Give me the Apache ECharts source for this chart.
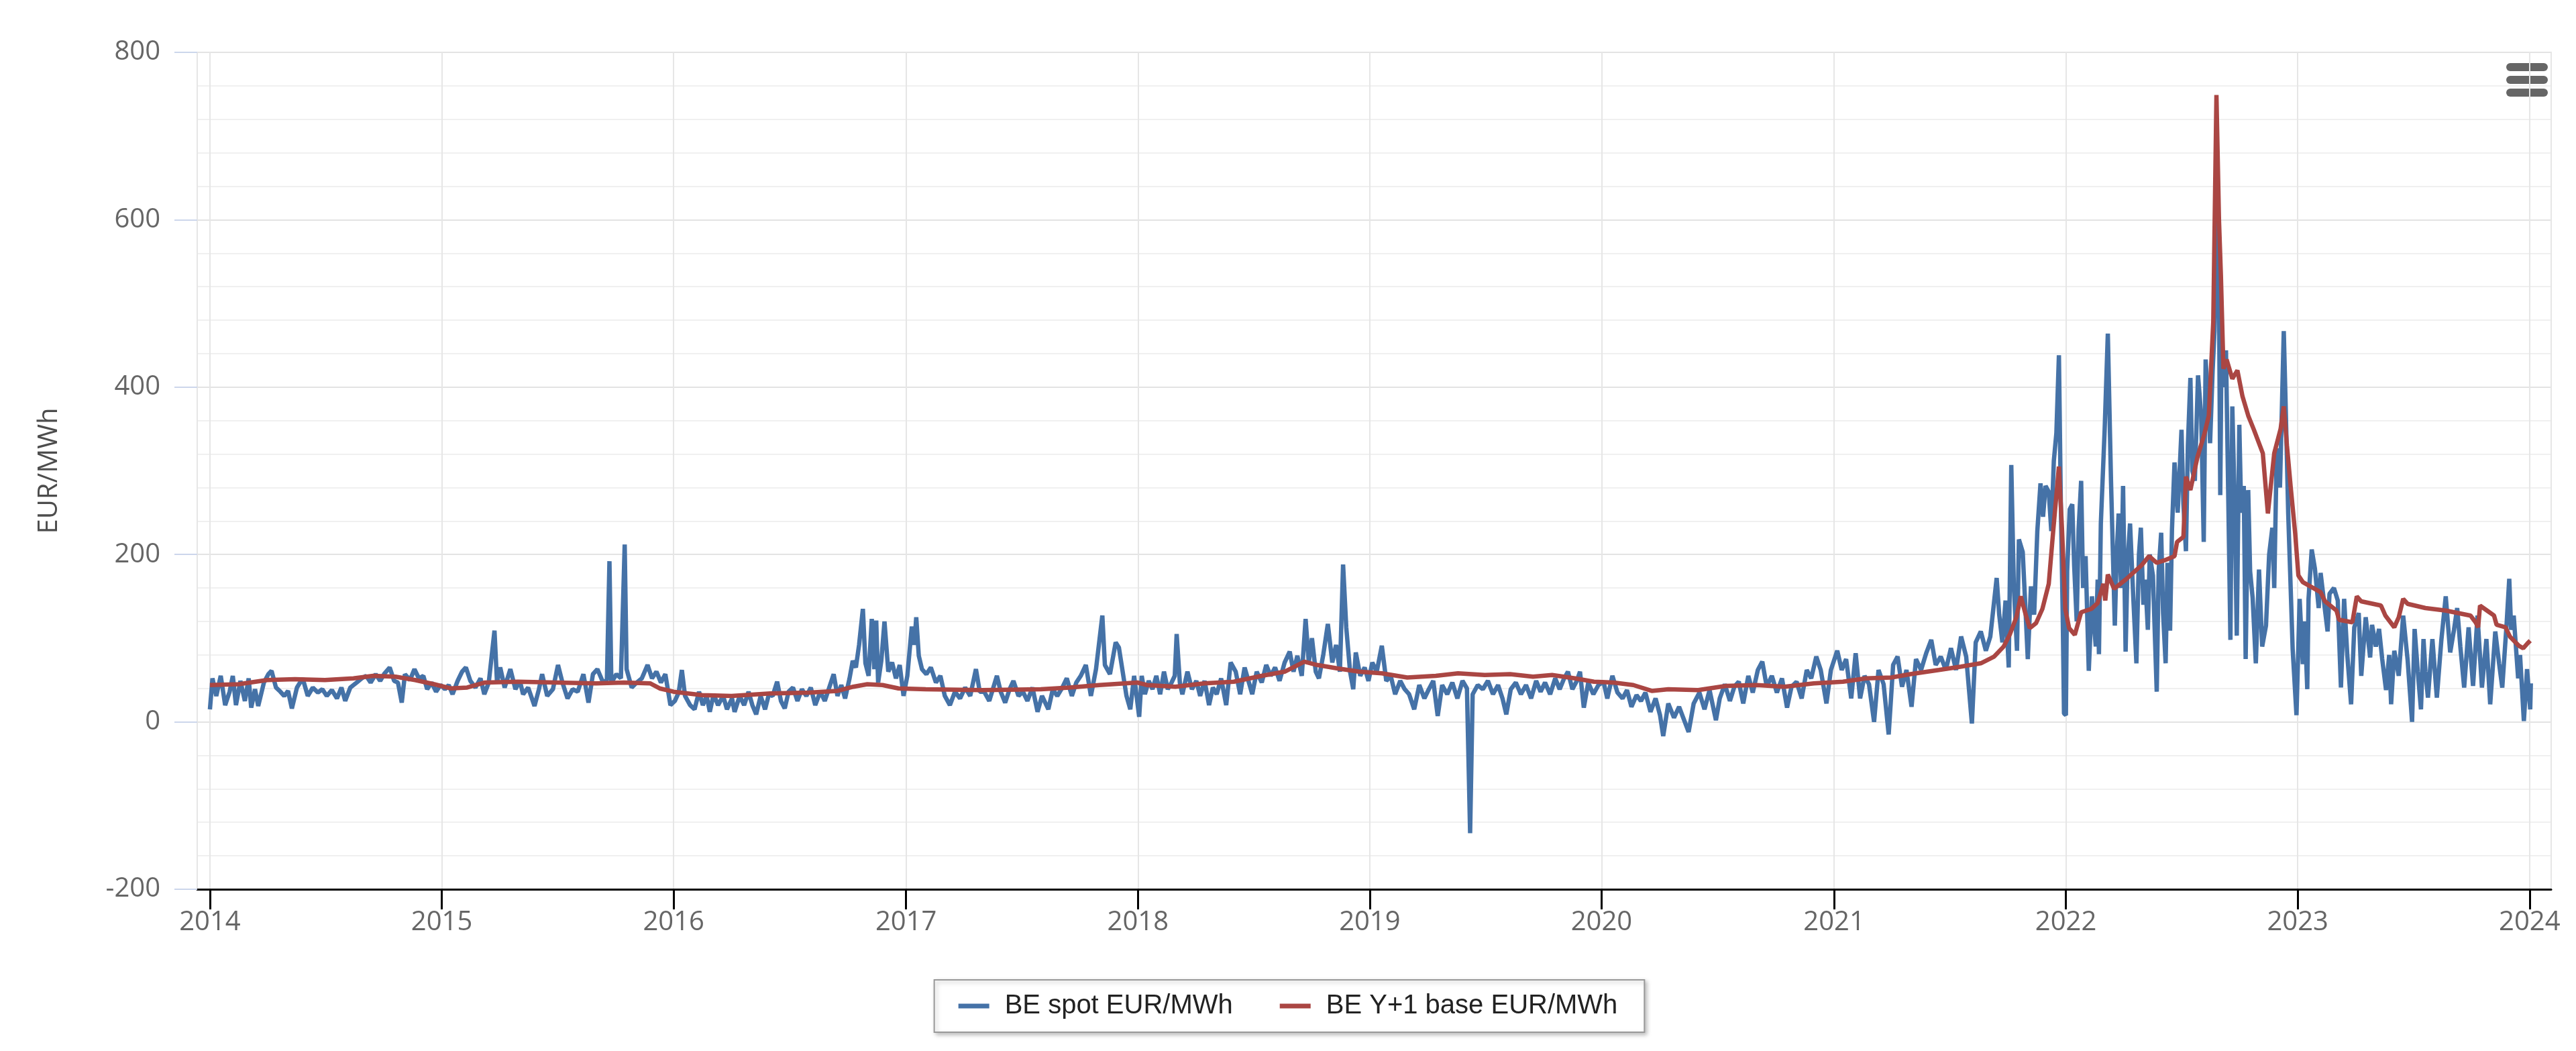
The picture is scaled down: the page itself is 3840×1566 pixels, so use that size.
<!DOCTYPE html>
<html>
<head>
<meta charset="utf-8">
<script src="https://cdn.jsdelivr.net/npm/echarts@6/dist/echarts.min.js"></script>
<style>
html,body{margin:0;padding:0;background:#fff;}
#chart{width:3840px;height:1566px;}
</style>
</head>
<body>
<div id="chart"></div>
<script>
// ---------- DATA ----------
const seriesNames = ['BE spot EUR/MWh', 'BE Y+1 base EUR/MWh'];
const yTicks = [-200, 0, 200, 400, 600, 800];

const spot2014 = [['2014-01-01',15],['2014-01-05',52],['2014-01-11',31],['2014-01-18',55],['2014-01-25',20],['2014-02-01',36],['2014-02-06',55],['2014-02-11',20],['2014-02-18',49],['2014-02-25',25],['2014-03-03',52],['2014-03-07',17],['2014-03-13',39],['2014-03-18',19],['2014-03-27',47],['2014-04-03',57],['2014-04-08',61],['2014-04-15',41],['2014-04-22',36],['2014-04-28',31],['2014-05-04',37],['2014-05-10',16],['2014-05-18',41],['2014-05-27',52],['2014-06-04',31],['2014-06-12',41],['2014-06-20',35],['2014-06-27',39],['2014-07-04',31],['2014-07-12',38],['2014-07-20',28],['2014-07-27',41],['2014-08-02',25],['2014-08-10',41],['2014-08-20',47],['2014-08-28',52],['2014-09-04',55],['2014-09-11',47],['2014-09-19',57],['2014-09-26',49],['2014-10-03',58],['2014-10-11',65],['2014-10-18',49],['2014-10-24',47],['2014-10-30',23],['2014-11-04',57],['2014-11-12',50],['2014-11-19',63],['2014-11-26',52],['2014-12-03',55],['2014-12-09',39],['2014-12-16',47],['2014-12-23',36],['2014-12-30',44]];
const spot2015 = [['2015-01-06',39],['2015-01-12',44],['2015-01-18',33],['2015-01-26',49],['2015-02-02',60],['2015-02-08',65],['2015-02-15',49],['2015-02-23',41],['2015-03-03',52],['2015-03-09',33],['2015-03-16',47],['2015-03-25',109],['2015-03-29',47],['2015-04-03',65],['2015-04-10',41],['2015-04-19',63],['2015-04-27',39],['2015-05-04',49],['2015-05-09',33],['2015-05-17',41],['2015-05-27',19],['2015-06-03',39],['2015-06-08',57],['2015-06-16',31],['2015-06-25',39],['2015-07-03',68],['2015-07-10',47],['2015-07-18',28],['2015-07-26',39],['2015-08-03',36],['2015-08-12',57],['2015-08-20',23],['2015-08-27',57],['2015-09-03',63],['2015-09-12',47],['2015-09-18',50],['2015-09-22',192],['2015-09-25',47],['2015-10-03',57],['2015-10-10',52],['2015-10-16',212],['2015-10-19',63],['2015-10-27',41],['2015-11-04',47],['2015-11-12',52],['2015-11-21',68],['2015-11-28',52],['2015-12-05',60],['2015-12-12',47],['2015-12-19',57],['2015-12-27',20]];
const spot2016 = [['2016-01-03',25],['2016-01-09',35],['2016-01-14',62],['2016-01-19',31],['2016-01-27',20],['2016-02-03',15],['2016-02-10',36],['2016-02-16',20],['2016-02-22',31],['2016-02-27',12],['2016-03-04',33],['2016-03-11',20],['2016-03-19',31],['2016-03-25',15],['2016-04-02',28],['2016-04-06',12],['2016-04-14',31],['2016-04-21',20],['2016-04-28',36],['2016-05-04',20],['2016-05-10',9],['2016-05-17',31],['2016-05-24',15],['2016-05-30',33],['2016-06-05',31],['2016-06-12',48],['2016-06-18',25],['2016-06-24',16],['2016-06-30',36],['2016-07-07',41],['2016-07-14',25],['2016-07-21',39],['2016-07-28',31],['2016-08-04',41],['2016-08-11',20],['2016-08-19',36],['2016-08-26',25],['2016-09-02',41],['2016-09-09',57],['2016-09-15',31],['2016-09-21',44],['2016-09-27',28],['2016-10-04',52],['2016-10-09',73],['2016-10-14',65],['2016-10-19',92],['2016-10-25',135],['2016-10-29',70],['2016-11-03',55],['2016-11-08',123],['2016-11-12',63],['2016-11-15',121],['2016-11-18',47],['2016-11-23',73],['2016-11-28',120],['2016-12-04',60],['2016-12-10',71],['2016-12-16',52],['2016-12-22',68],['2016-12-28',31]];
const spot2017 = [['2017-01-03',55],['2017-01-10',114],['2017-01-14',92],['2017-01-17',125],['2017-01-21',79],['2017-01-26',63],['2017-02-02',57],['2017-02-09',65],['2017-02-17',47],['2017-02-24',55],['2017-03-03',31],['2017-03-11',20],['2017-03-19',36],['2017-03-27',28],['2017-04-04',41],['2017-04-12',31],['2017-04-21',63],['2017-04-27',36],['2017-05-04',36],['2017-05-12',25],['2017-05-24',55],['2017-05-30',36],['2017-06-06',23],['2017-06-13',39],['2017-06-19',49],['2017-06-27',31],['2017-07-04',36],['2017-07-11',25],['2017-07-19',41],['2017-07-27',12],['2017-08-03',31],['2017-08-13',15],['2017-08-20',39],['2017-08-27',31],['2017-09-04',41],['2017-09-11',52],['2017-09-19',31],['2017-09-26',47],['2017-10-03',55],['2017-10-11',68],['2017-10-19',31],['2017-10-27',63],['2017-11-06',127],['2017-11-10',68],['2017-11-18',57],['2017-11-27',95],['2017-12-02',89],['2017-12-08',60],['2017-12-14',31],['2017-12-20',15],['2017-12-26',55]];
const spot2018 = [['2018-01-03',6],['2018-01-07',55],['2018-01-12',33],['2018-01-18',49],['2018-01-24',39],['2018-01-30',55],['2018-02-05',33],['2018-02-11',60],['2018-02-17',39],['2018-02-23',47],['2018-02-28',55],['2018-03-03',105],['2018-03-08',47],['2018-03-12',33],['2018-03-20',60],['2018-03-27',39],['2018-04-03',49],['2018-04-09',31],['2018-04-16',49],['2018-04-23',20],['2018-04-29',41],['2018-05-05',33],['2018-05-12',52],['2018-05-20',20],['2018-05-27',71],['2018-06-04',60],['2018-06-11',33],['2018-06-18',65],['2018-06-24',49],['2018-06-30',33],['2018-07-07',60],['2018-07-15',47],['2018-07-22',68],['2018-07-29',55],['2018-08-05',65],['2018-08-12',49],['2018-08-20',71],['2018-08-28',84],['2018-09-03',60],['2018-09-09',79],['2018-09-16',55],['2018-09-22',123],['2018-09-27',71],['2018-10-02',100],['2018-10-08',60],['2018-10-13',52],['2018-10-20',81],['2018-10-27',117],['2018-11-03',71],['2018-11-09',92],['2018-11-15',60],['2018-11-20',188],['2018-11-25',113],['2018-12-01',60],['2018-12-06',39],['2018-12-10',83],['2018-12-17',55],['2018-12-24',65],['2018-12-30',49]];
const spot2019 = [['2019-01-05',71],['2019-01-12',60],['2019-01-20',91],['2019-01-27',49],['2019-02-03',55],['2019-02-10',33],['2019-02-18',49],['2019-02-25',39],['2019-03-04',33],['2019-03-12',15],['2019-03-20',44],['2019-03-28',28],['2019-04-04',39],['2019-04-11',49],['2019-04-18',7],['2019-04-25',44],['2019-05-03',33],['2019-05-11',47],['2019-05-19',28],['2019-05-27',49],['2019-06-03',40],['2019-06-08',-133],['2019-06-12',33],['2019-06-20',44],['2019-06-28',39],['2019-07-06',49],['2019-07-14',33],['2019-07-22',44],['2019-07-29',28],['2019-08-04',9],['2019-08-11',39],['2019-08-19',47],['2019-08-27',33],['2019-09-04',44],['2019-09-12',28],['2019-09-20',49],['2019-09-27',36],['2019-10-04',47],['2019-10-12',33],['2019-10-20',52],['2019-10-27',39],['2019-11-03',52],['2019-11-09',60],['2019-11-16',39],['2019-11-23',49],['2019-11-28',60],['2019-12-04',17],['2019-12-11',47],['2019-12-19',33],['2019-12-27',44]];
const spot2020 = [['2020-01-04',48],['2020-01-10',28],['2020-01-18',55],['2020-01-26',35],['2020-02-03',28],['2020-02-10',38],['2020-02-17',18],['2020-02-25',32],['2020-03-03',25],['2020-03-10',35],['2020-03-18',12],['2020-03-26',28],['2020-04-02',8],['2020-04-07',-17],['2020-04-15',22],['2020-04-24',5],['2020-05-02',18],['2020-05-10',2],['2020-05-17',-12],['2020-05-25',22],['2020-06-03',35],['2020-06-11',15],['2020-06-19',38],['2020-06-29',2],['2020-07-05',28],['2020-07-13',45],['2020-07-21',25],['2020-07-28',42],['2020-08-04',48],['2020-08-11',22],['2020-08-19',55],['2020-08-26',35],['2020-09-03',62],['2020-09-10',72],['2020-09-17',42],['2020-09-25',55],['2020-10-03',35],['2020-10-11',52],['2020-10-19',17],['2020-10-26',42],['2020-11-03',48],['2020-11-11',28],['2020-11-19',62],['2020-11-26',52],['2020-12-04',78],['2020-12-11',62],['2020-12-20',22],['2020-12-27',62]];
const spot2021 = [['2021-01-06',85],['2021-01-13',62],['2021-01-20',75],['2021-01-28',28],['2021-02-04',82],['2021-02-11',28],['2021-02-18',55],['2021-02-25',45],['2021-03-05',0],['2021-03-12',62],['2021-03-20',45],['2021-03-28',-15],['2021-04-04',68],['2021-04-11',78],['2021-04-18',42],['2021-04-25',62],['2021-05-03',18],['2021-05-10',75],['2021-05-18',62],['2021-05-26',82],['2021-06-03',98],['2021-06-10',68],['2021-06-18',78],['2021-06-26',62],['2021-07-04',88],['2021-07-12',62],['2021-07-20',102],['2021-07-28',78],['2021-08-06',-2],['2021-08-12',95],['2021-08-20',108],['2021-08-28',85],['2021-09-04',102],['2021-09-14',172],['2021-09-18',128],['2021-09-23',95],['2021-09-28',145],['2021-10-03',65],['2021-10-07',307],['2021-10-11',162],['2021-10-16',85],['2021-10-19',218],['2021-10-25',203],['2021-10-29',140],['2021-11-02',75],['2021-11-07',162],['2021-11-12',128],['2021-11-17',228],['2021-11-22',285],['2021-11-26',245],['2021-11-30',282],['2021-12-05',275],['2021-12-09',228],['2021-12-13',312],['2021-12-17',345],['2021-12-21',438],['2021-12-24',262],['2021-12-27',128],['2021-12-29',10]];
const spot2022 = [['2022-01-01',8],['2022-01-03',180],['2022-01-07',254],['2022-01-11',260],['2022-01-14',187],['2022-01-18',120],['2022-01-21',230],['2022-01-25',288],['2022-01-28',160],['2022-02-01',198],['2022-02-06',61],['2022-02-11',150],['2022-02-17',90],['2022-02-20',170],['2022-02-22',81],['2022-02-25',237],['2022-03-03',349],['2022-03-08',464],['2022-03-13',288],['2022-03-19',115],['2022-03-22',200],['2022-03-25',249],['2022-03-29',160],['2022-04-01',282],['2022-04-05',84],['2022-04-08',190],['2022-04-12',237],['2022-04-17',150],['2022-04-22',70],['2022-04-26',200],['2022-04-29',232],['2022-05-03',140],['2022-05-06',170],['2022-05-10',110],['2022-05-13',200],['2022-05-18',175],['2022-05-24',36],['2022-05-27',180],['2022-05-31',226],['2022-06-03',130],['2022-06-07',70],['2022-06-10',190],['2022-06-14',109],['2022-06-17',230],['2022-06-21',310],['2022-06-26',250],['2022-07-02',349],['2022-07-05',260],['2022-07-09',204],['2022-07-12',330],['2022-07-16',411],['2022-07-19',300],['2022-07-23',288],['2022-07-28',414],['2022-08-02',366],['2022-08-06',215],['2022-08-09',433],['2022-08-13',380],['2022-08-16',333],['2022-08-20',420],['2022-08-23',467],['2022-08-27',620],['2022-08-30',520],['2022-09-01',271],['2022-09-03',450],['2022-09-06',400],['2022-09-10',444],['2022-09-13',300],['2022-09-17',98],['2022-09-20',377],['2022-09-24',250],['2022-09-27',103],['2022-10-01',355],['2022-10-04',250],['2022-10-08',282],['2022-10-11',75],['2022-10-15',277],['2022-10-18',180],['2022-10-22',148],['2022-10-27',70],['2022-11-01',182],['2022-11-06',90],['2022-11-12',115],['2022-11-17',200],['2022-11-22',232],['2022-11-25',160],['2022-11-29',327],['2022-12-04',280],['2022-12-10',467],['2022-12-13',377],['2022-12-17',249],['2022-12-20',180],['2022-12-24',87],['2022-12-30',8]];
const spot2023 = [['2023-01-04',147],['2023-01-09',69],['2023-01-12',120],['2023-01-16',39],['2023-01-18',147],['2023-01-23',206],['2023-01-28',183],['2023-02-03',136],['2023-02-06',178],['2023-02-13',133],['2023-02-17',108],['2023-02-20',153],['2023-02-27',160],['2023-03-05',145],['2023-03-10',41],['2023-03-15',147],['2023-03-20',80],['2023-03-26',21],['2023-03-31',113],['2023-04-07',130],['2023-04-11',55],['2023-04-18',125],['2023-04-25',77],['2023-04-28',116],['2023-05-04',90],['2023-05-09',111],['2023-05-14',75],['2023-05-20',38],['2023-05-25',80],['2023-05-28',21],['2023-06-02',85],['2023-06-09',55],['2023-06-16',127],['2023-06-23',74],['2023-06-30',0],['2023-07-04',111],['2023-07-09',60],['2023-07-14',15],['2023-07-18',99],['2023-07-21',60],['2023-07-25',29],['2023-08-01',99],['2023-08-08',29],['2023-08-15',97],['2023-08-22',150],['2023-08-29',83],['2023-09-04',110],['2023-09-09',136],['2023-09-14',90],['2023-09-20',41],['2023-09-27',113],['2023-10-04',43],['2023-10-11',127],['2023-10-18',41],['2023-10-25',99],['2023-10-31',21],['2023-11-08',108],['2023-11-14',70],['2023-11-19',41],['2023-11-26',119],['2023-11-30',171],['2023-12-03',110],['2023-12-07',127],['2023-12-14',52],['2023-12-17',80],['2023-12-23',1],['2023-12-28',63],['2024-01-02',15],['2024-01-03',46]];

const y1_2014_2017 = [['2014-01-01',44],['2014-02-15',45],['2014-04-01',50],['2014-05-15',51],['2014-07-01',50],['2014-08-15',52],['2014-09-15',55],['2014-10-20',54],['2014-11-20',50],['2014-12-20',45],['2015-01-15',40],['2015-02-10',41],['2015-03-10',47],['2015-05-01',48],['2015-07-01',47],['2015-09-01',46],['2015-10-15',47],['2015-11-25',46],['2015-12-10',40],['2016-01-01',36],['2016-02-15',32],['2016-04-01',31],['2016-06-01',34],['2016-08-01',35],['2016-09-15',37],['2016-10-10',42],['2016-11-01',45],['2016-11-25',44],['2016-12-20',40],['2017-02-01',39],['2017-05-01',38],['2017-08-01',39],['2017-09-15',41],['2017-11-01',44],['2017-12-31',47]];
const y1_2018_2020 = [['2018-01-15',44],['2018-03-01',42],['2018-04-15',46],['2018-06-01',48],['2018-07-15',55],['2018-08-20',60],['2018-09-20',72],['2018-10-10',68],['2018-11-10',64],['2018-12-15',60],['2019-01-20',58],['2019-03-01',53],['2019-04-15',55],['2019-05-20',58],['2019-07-01',56],['2019-08-10',57],['2019-09-15',54],['2019-10-15',56],['2019-11-20',52],['2019-12-20',48],['2020-01-20',47],['2020-02-20',44],['2020-03-20',37],['2020-04-15',39],['2020-06-01',38],['2020-07-15',43],['2020-09-01',44],['2020-10-15',42],['2020-11-30',46]];
const y1_2021 = [['2021-01-15',48],['2021-02-20',52],['2021-04-01',53],['2021-05-01',57],['2021-06-15',62],['2021-07-20',66],['2021-08-20',70],['2021-09-10',78],['2021-09-25',90],['2021-10-05',105],['2021-10-15',125],['2021-10-22',150],['2021-10-29',130],['2021-11-05',112],['2021-11-15',118],['2021-11-25',135],['2021-12-05',165],['2021-12-12',228],['2021-12-21',305],['2021-12-26',228],['2021-12-31',135]];
const y1_2022 = [['2022-01-06',112],['2022-01-15',104],['2022-01-25',131],['2022-02-10',135],['2022-02-20',142],['2022-03-01',165],['2022-03-04',145],['2022-03-08',176],['2022-03-18',159],['2022-04-05',170],['2022-04-30',187],['2022-05-12',198],['2022-05-24',190],['2022-06-05',193],['2022-06-21',198],['2022-06-25',215],['2022-07-05',221],['2022-07-09',293],['2022-07-16',277],['2022-07-27',316],['2022-08-07',344],['2022-08-14',366],['2022-08-21',478],['2022-08-26',749],['2022-08-30',600],['2022-09-02',534],['2022-09-06',422],['2022-09-11',433],['2022-09-20',410],['2022-09-28',420],['2022-10-06',389],['2022-10-15',366],['2022-10-24',349],['2022-11-01',333],['2022-11-07',321],['2022-11-15',249],['2022-11-25',321],['2022-12-05',350],['2022-12-10',377],['2022-12-15',330],['2022-12-21',280],['2022-12-28',225]];
const y1_2023 = [['2023-01-02',175],['2023-01-09',167],['2023-02-06',155],['2023-02-13',144],['2023-03-03',133],['2023-03-07',122],['2023-03-28',119],['2023-04-04',150],['2023-04-11',144],['2023-05-12',139],['2023-05-19',127],['2023-06-02',113],['2023-06-09',125],['2023-06-16',147],['2023-06-23',141],['2023-07-21',136],['2023-08-22',133],['2023-09-30',127],['2023-10-08',119],['2023-10-12',113],['2023-10-15',139],['2023-10-26',133],['2023-11-06',127],['2023-11-10',116],['2023-11-24',113],['2023-12-01',102],['2023-12-15',91],['2023-12-22',88],['2023-12-29',94],['2024-01-02',97]];

// ---------- BUILD ----------
function ts(s){const p=s.split('-').map(Number);return Date.UTC(p[0],p[1]-1,p[2]);}
function toSeries(arrs){return [].concat(...arrs).map(d=>[ts(d[0]),d[1]]);}
const spotData = toSeries([spot2014,spot2015,spot2016,spot2017,spot2018,spot2019,spot2020,spot2021,spot2022,spot2023]);
const y1Data = toSeries([y1_2014_2017,y1_2018_2020,y1_2021,y1_2022,y1_2023]);

const YEAR = 365*24*3600*1000;
const chart = echarts.init(document.getElementById('chart'), null, {renderer:'canvas'});
chart.setOption({
  animation:false,
  useUTC:true,
  backgroundColor:'#ffffff',
  grid:{left:294,right:37,top:78,bottom:241,show:true,borderColor:'#e6e6e6',borderWidth:2,backgroundColor:'transparent'},
  xAxis:{
    type:'time',
    min:Date.UTC(2013,11,12),
    max:Date.UTC(2024,1,4),
    minInterval:YEAR, maxInterval:YEAR, splitNumber:10,
    axisLine:{show:true,onZero:false,lineStyle:{color:'#000',width:3}},
    axisTick:{show:true,length:30,lineStyle:{color:'#000',width:3}},
    axisLabel:{margin:30,color:'#666',fontSize:40,fontFamily:'Open Sans',
      formatter:function(v){return String(new Date(v).getUTCFullYear());}},
    splitLine:{show:true,lineStyle:{color:'#e6e6e6',width:2}}
  },
  yAxis:{
    type:'value',
    min:yTicks[0], max:yTicks[yTicks.length-1], interval:200,
    name:'EUR/MWh', nameLocation:'middle', nameGap:200, nameRotate:90,
    nameTextStyle:{fontSize:40,color:'#4d4d4d',fontFamily:'Open Sans'},
    axisLine:{show:false},
    axisTick:{show:true,length:34,lineStyle:{color:'#ccd6eb',width:2}},
    axisLabel:{margin:55,color:'#666',fontSize:40,fontFamily:'Open Sans'},
    splitLine:{show:true,lineStyle:{color:'#e3e3e3',width:2}},
    minorTick:{show:false,splitNumber:5},
    minorSplitLine:{show:true,lineStyle:{color:'#f0f0f0',width:2}}
  },
  legend:{
    data:seriesNames,
    left:'center', top:1460,
    orient:'horizontal',
    icon:'rect', itemWidth:46, itemHeight:7, itemGap:70,
    padding:[19,40,19,36],
    backgroundColor:'#fff',
    borderColor:'#999', borderWidth:2,
    shadowColor:'rgba(0,0,0,0.25)', shadowBlur:6, shadowOffsetX:3, shadowOffsetY:3,
    textStyle:{fontSize:40,color:'#222',fontFamily:'Liberation Sans',padding:[0,0,0,18]}
  },
  graphic:[
    {type:'rect',shape:{x:3736,y:94,width:62,height:12,r:6},style:{fill:'#666'}},
    {type:'rect',shape:{x:3736,y:113,width:62,height:12,r:6},style:{fill:'#666'}},
    {type:'rect',shape:{x:3736,y:132,width:62,height:12,r:6},style:{fill:'#666'}}
  ],
  series:[
    {name:seriesNames[0],type:'line',data:spotData,showSymbol:false,symbol:'none',
      lineStyle:{color:'#4572A7',width:6.5},itemStyle:{color:'#4572A7'},z:2},
    {name:seriesNames[1],type:'line',data:y1Data,showSymbol:false,symbol:'none',
      lineStyle:{color:'#AA4643',width:6.5},itemStyle:{color:'#AA4643'},z:3}
  ]
});
</script>
</body>
</html>
